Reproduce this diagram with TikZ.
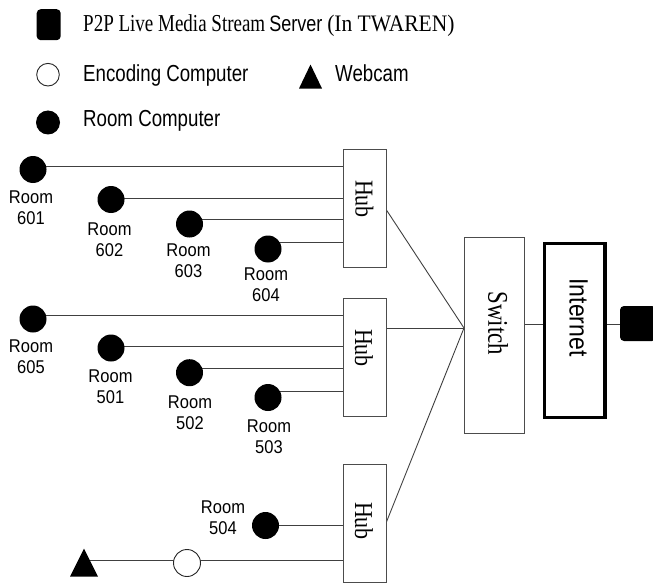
\documentclass[tikz,border=0pt]{standalone}
\usepackage{fontspec}
\usepackage{graphicx}
\setmainfont{Liberation Serif}
\setsansfont{Liberation Sans}
\usetikzlibrary{shapes.geometric,backgrounds}

% tall lettering: text stretched vertically by #1
\newcommand{\tallt}[2]{\scalebox{1}[#1]{#2}}
% two-line room tag
\newcommand{\roomtag}[1]{\scalebox{1}[1.12]{\fontsize{16.5}{18.75}\selectfont\begin{tabular}{@{}c@{}}Room\\#1\end{tabular}}}

\begin{document}
\begin{tikzpicture}[x=1pt,y=-1pt,
  wire/.style={draw=black!75, line width=0.9pt},
  box/.style={draw=black!70, line width=0.9pt, fill=white, inner sep=0pt},
  pc/.style={circle, fill=black, minimum size=27pt, inner sep=0pt},
  enc/.style={circle, draw=black!85, line width=0.9pt, fill=white, minimum size=27pt, inner sep=0pt},
  cam/.style={isosceles triangle, isosceles triangle stretches, shape border rotate=90,
              fill=black, inner sep=0pt, anchor=apex},
  server/.style={rectangle, rounded corners=4pt, fill=black, inner sep=0pt},
  roomlbl/.style={font=\sffamily, inner sep=0pt},
  lgtext/.style={font=\sffamily\fontsize{18.7}{22}\selectfont, anchor=base west, inner sep=0pt},
  vtext/.style={rotate=-90, inner sep=0pt},
]
\useasboundingbox (0,0) rectangle (653,583);
\clip (0,0) rectangle (653,583);

% ---------- legend ----------
\node[server, minimum width=24pt, minimum height=31pt] (lgsrv) at (48.7,24.7) {};
\node[anchor=base west, inner sep=0pt] (lgsrvtxt) at (83,32)
  {\tallt{1.28}{\fontsize{19}{22}\selectfont P2P Live Media Stream}\hspace{4pt}\tallt{1.24}{\sffamily\fontsize{18}{21}\selectfont Server}\hspace{5pt}\tallt{1.1}{\fontsize{21.5}{24}\selectfont(In TWAREN)}};
\node[enc, minimum size=22.6pt] (lgenc) at (48,74.7) {};
\node[lgtext] (lgenctxt) at (83,81.5) {\tallt{1.24}{Encoding Computer}};
\node[cam, minimum width=23pt, minimum height=24pt] (lgcam) at (310.5,64) {};
\node[lgtext] (lgcamtxt) at (335,81.5) {\tallt{1.24}{Webcam}};
\node[pc, minimum size=24pt] (lgpc) at (48,122.5) {};
\node[lgtext] (lgpctxt) at (83,126.5) {\tallt{1.24}{Room Computer}};

% ---------- hubs, switch, internet, server ----------
\node[box, minimum width=43pt, minimum height=118pt] (hub1) at (364.5,208) {};
\node[box, minimum width=43pt, minimum height=118pt] (hub2) at (364.5,357) {};
\node[box, minimum width=43pt, minimum height=118pt] (hub3) at (364.5,523) {};
\node[vtext, font=\fontsize{22}{25}\selectfont] (hub1t) at (364.3,199) {\tallt{1.17}{Hub}};
\node[vtext, font=\fontsize{22}{25}\selectfont] (hub2t) at (363.8,348) {\tallt{1.17}{Hub}};
\node[vtext, font=\fontsize{22}{25}\selectfont] (hub3t) at (364,521) {\tallt{1.17}{Hub}};

\node[box, minimum width=60pt, minimum height=196pt] (sw) at (494,335) {};
\node[vtext, font=\fontsize{22.8}{26}\selectfont] (swt) at (498,323.3) {\tallt{1.25}{Switch}};

\node[box, draw=black, line width=3.5pt, minimum width=60.5pt, minimum height=174pt] (inet) at (574.75,330.6) {};
\node[vtext, font=\sffamily\fontsize{23}{26}\selectfont] (inett) at (578.5,317.5) {\tallt{1.15}{Internet}};

\node[server, minimum width=36pt, minimum height=35pt] (srv) at (638,323.5) {};

% ---------- room computers ----------
\node[pc] (c601) at (33,169.5) {};
\node[pc] (c602) at (111,199.5) {};
\node[pc] (c603) at (189.5,224) {};
\node[pc] (c604) at (268,249) {};
\node[pc] (c605) at (33,319) {};
\node[pc] (c501) at (111,348) {};
\node[pc] (c502) at (189.5,372.7) {};
\node[pc] (c503) at (268,397.5) {};
\node[pc] (c504) at (265.5,525.5) {};

\node[roomlbl] (l601) at (31,209.9) {\roomtag{601}};
\node[roomlbl] (l602) at (109.5,241.4) {\roomtag{602}};
\node[roomlbl] (l603) at (188.5,262.9) {\roomtag{603}};
\node[roomlbl] (l604) at (266,286.9) {\roomtag{604}};
\node[roomlbl] (l605) at (31,358.9) {\roomtag{605}};
\node[roomlbl] (l501) at (110.5,388.9) {\roomtag{501}};
\node[roomlbl] (l502) at (190,414.9) {\roomtag{502}};
\node[roomlbl] (l503) at (269,438.9) {\roomtag{503}};
\node[roomlbl] (l504) at (223,519.9) {\roomtag{504}};

% ---------- encoding computer and webcam ----------
\node[enc] (enc) at (187,563) {};
\node[cam, minimum width=28pt, minimum height=28pt] (cam) at (84,548) {};

% ---------- cabling ----------
\coordinate (jn) at (464,328);
\coordinate (lk) at (530,324);
\coordinate (encln) at (0,560.7);
\begin{pgfonlayer}{background}
  \draw[wire] ([yshift=3.5pt]c601.center) -- ([yshift=3.5pt]c601.center -| hub1.west);
  \draw[wire] ([yshift=1.5pt]c602.center) -- ([yshift=1.5pt]c602.center -| hub1.west);
  \draw[wire] ([yshift=4.7pt]c603.center) -- ([yshift=4.7pt]c603.center -| hub1.west);
  \draw[wire] ([yshift=7pt]c604.center) -- ([yshift=7pt]c604.center -| hub1.west);
  \draw[wire] ([yshift=4pt]c605.center) -- ([yshift=4pt]c605.center -| hub2.west);
  \draw[wire] ([yshift=1.3pt]c501.center) -- ([yshift=1.3pt]c501.center -| hub2.west);
  \draw[wire] ([yshift=4.7pt]c502.center) -- ([yshift=4.7pt]c502.center -| hub2.west);
  \draw[wire] ([yshift=6.5pt]c503.center) -- ([yshift=6.5pt]c503.center -| hub2.west);
  \draw[wire] (c504.center) -- (c504.center -| hub3.west);
  \draw[wire] (cam |- encln) -- (enc |- encln) -- (hub3.west |- encln);
  \draw[wire] ([yshift=-2pt]hub1.east) -- (jn);
  \draw[wire] (hub2.east |- jn) -- (jn);
  \draw[wire] ([yshift=1pt]hub3.east) -- (jn);
  \draw[wire] (sw.east |- lk) -- (inet.west |- lk);
  \draw[wire] (inet.east |- lk) -- (srv.west |- lk);
\end{pgfonlayer}
\end{tikzpicture}
\end{document}
